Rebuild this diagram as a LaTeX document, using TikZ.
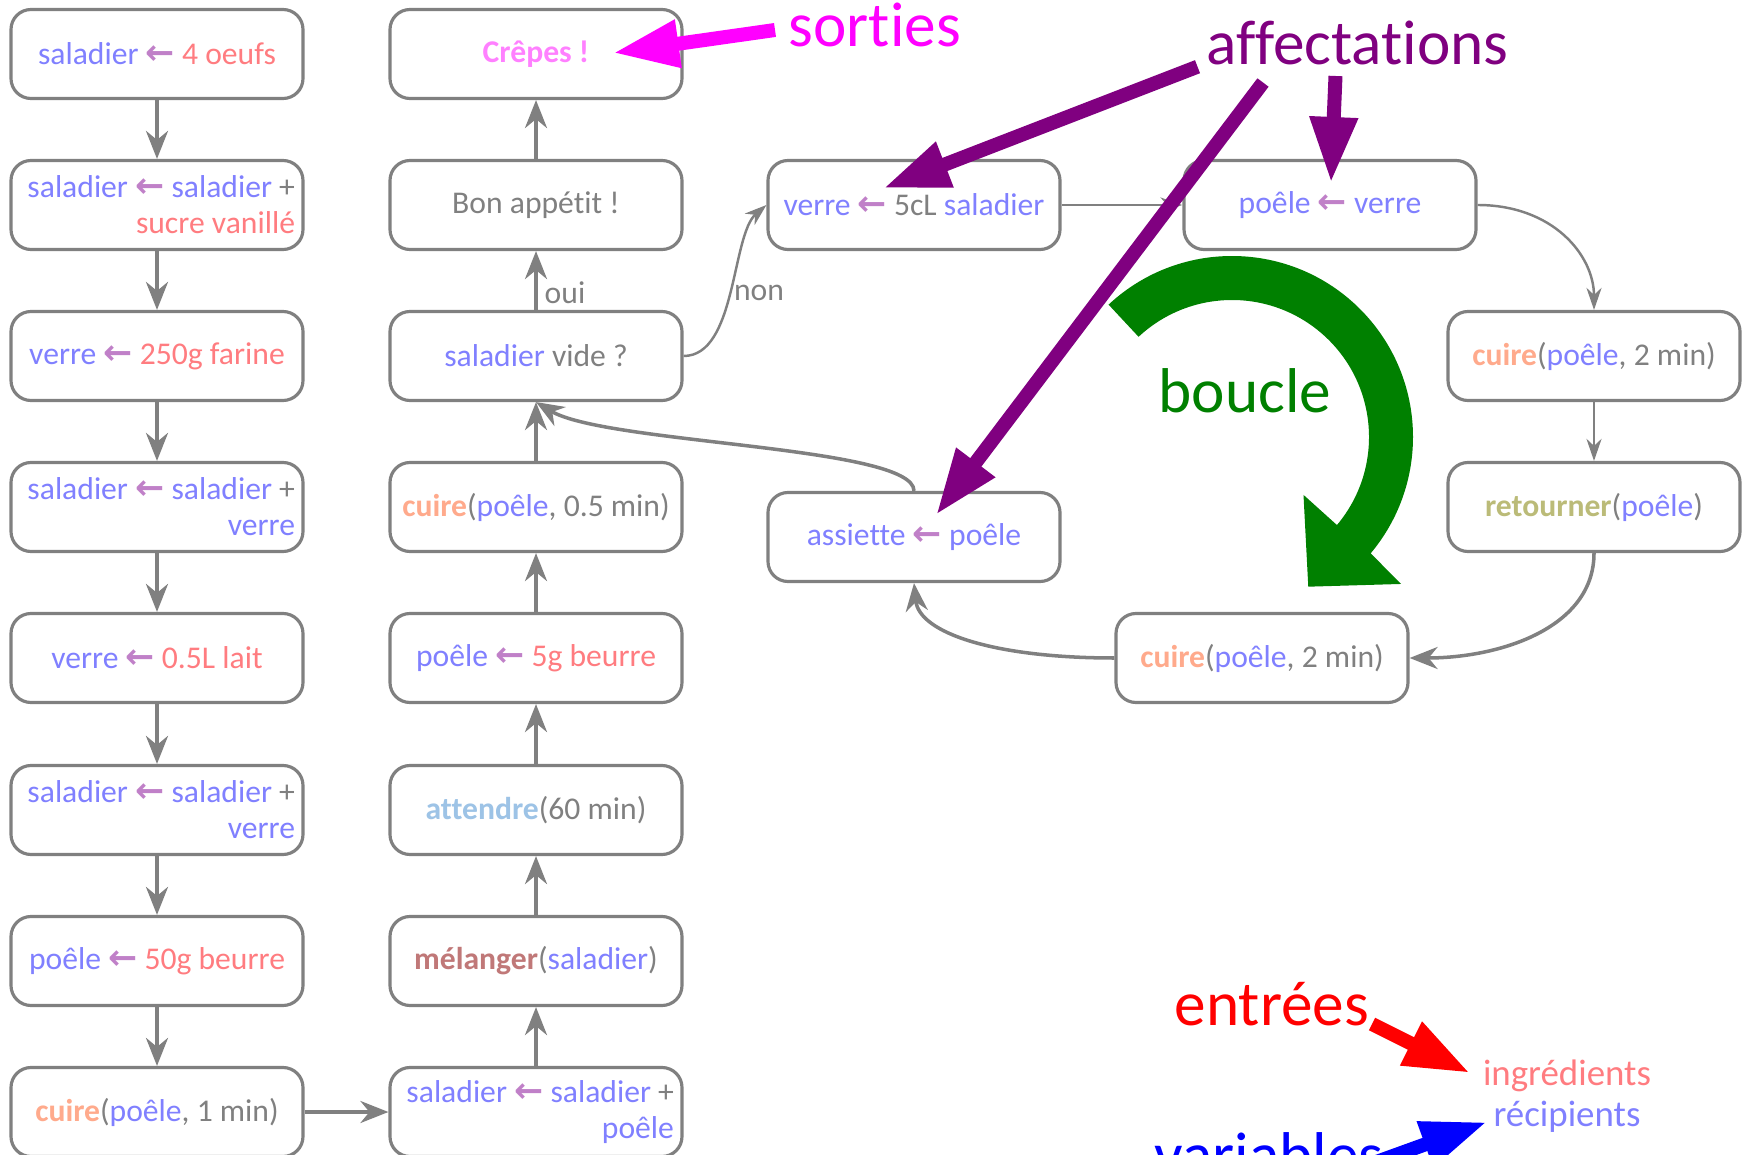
\documentclass[tikz,border=0pt]{standalone}
\usepackage{fontspec}
\setmainfont{Carlito}[Ligatures=NoCommon]
\newfontfamily\flechefont{DejaVu Sans}[Scale=1.1]
\usepackage{xcolor}
\usetikzlibrary{arrows.meta}

\definecolor{gristrait}{RGB}{128,128,128}
\definecolor{recipcol}{RGB}{128,128,255}
\definecolor{ingrcol}{RGB}{255,124,128}
\definecolor{flechecol}{RGB}{192,128,200}
\definecolor{cuirecol}{RGB}{255,170,140}
\definecolor{attendcol}{RGB}{157,195,230}
\definecolor{melcol}{RGB}{192,120,120}
\definecolor{retourcol}{RGB}{187,187,120}
\definecolor{crepecol}{RGB}{255,128,255}
\definecolor{sortiecol}{RGB}{255,0,255}
\definecolor{affcol}{RGB}{128,0,128}
\definecolor{bouclecol}{RGB}{0,128,0}
\definecolor{entreecol}{RGB}{255,0,0}
\definecolor{varcol}{RGB}{0,0,255}

\newcommand{\recip}[1]{\textcolor{recipcol}{#1}}
\newcommand{\ingr}[1]{\textcolor{ingrcol}{#1}}
\newcommand{\prend}{\textcolor{flechecol}{{\flechefont\bfseries ←}}}
\newcommand{\fonc}[2]{\textcolor{#1}{\textbf{#2}}}

\begin{document}
\begin{tikzpicture}[
    etape/.style={draw=gristrait, line width=0.9pt, rounded corners=2mm, fill=white,
        minimum width=2.92cm, minimum height=0.89cm, inner sep=1mm,
        text=gristrait, font=\fontsize{9}{10.2}\selectfont},
    etape2/.style={etape, text width=2.76cm, inner xsep=0.8mm, align=flush right},
    etiq/.style={text=gristrait, font=\fontsize{9}{10.2}\selectfont},
    lien/.style={draw=gristrait, line width=1pt, -{Stealth[length=2.8mm,width=2.2mm,inset=0.9mm]}},
    lienfin/.style={draw=gristrait, line width=0.7pt, -{Stealth[length=2.2mm,width=1.5mm,inset=0.7mm]}},
    grosse/.style={line width=1.4mm, -{Triangle[length=6.6mm,width=4.5mm]}},
    titre/.style={inner sep=0, anchor=base west, font=\fontsize{18}{21.6}\selectfont}
]
        \path[use as bounding box, fill=white] (0,0) rectangle (17.49,-11.55) ;

        % preparation de la pate
        \node[etape] (A1) at (1.57,-0.54) {\recip{saladier} \prend{} \ingr{4 oeufs}} ;
        \node[etape2] (A2) at (1.57,-2.05) {\recip{saladier} \prend{} \recip{saladier} +\\ \ingr{sucre vanillé}} ;
        \node[etape] (A3) at (1.57,-3.56) {\recip{verre} \prend{} \ingr{250g farine}} ;
        \node[etape2] (A4) at (1.57,-5.07) {\recip{saladier} \prend{} \recip{saladier} +\\ \recip{verre}} ;
        \node[etape] (A5) at (1.57,-6.58) {\recip{verre} \prend{} \ingr{0.5L lait}} ;
        \node[etape2] (A6) at (1.57,-8.10) {\recip{saladier} \prend{} \recip{saladier} +\\ \recip{verre}} ;
        \node[etape] (A7) at (1.57,-9.61) {\recip{poêle} \prend{} \ingr{50g beurre}} ;
        \node[etape] (A8) at (1.57,-11.12) {\fonc{cuirecol}{cuire}(\recip{poêle}, 1 min)} ;

        \node[etape] (B1) at (5.36,-0.54) {\fonc{crepecol}{Crêpes !}} ;
        \node[etape] (B2) at (5.36,-2.05) {Bon appétit !} ;
        \node[etape] (B3) at (5.36,-3.56) {\recip{saladier} vide ?} ;
        \node[etape] (B4) at (5.36,-5.07) {\fonc{cuirecol}{cuire}(\recip{poêle}, 0.5 min)} ;
        \node[etape] (B5) at (5.36,-6.58) {\recip{poêle} \prend{} \ingr{5g beurre}} ;
        \node[etape] (B6) at (5.36,-8.10) {\fonc{attendcol}{attendre}(60 min)} ;
        \node[etape] (B7) at (5.36,-9.61) {\fonc{melcol}{mélanger}(\recip{saladier})} ;
        \node[etape2] (B8) at (5.36,-11.12) {\recip{saladier} \prend{} \recip{saladier} +\\ \recip{poêle}} ;

        % une crepe
        \node[etape] (C1) at (9.14,-2.05) {\recip{verre} \prend{} 5cL \recip{saladier}} ;
        \node[etape] (C2) at (13.30,-2.05) {\recip{poêle} \prend{} \recip{verre}} ;
        \node[etape] (C3) at (15.94,-3.56) {\fonc{cuirecol}{cuire}(\recip{poêle}, 2 min)} ;
        \node[etape] (C4) at (15.94,-5.07) {\fonc{retourcol}{retourner}(\recip{poêle})} ;
        \node[etape] (C5) at (12.62,-6.58) {\fonc{cuirecol}{cuire}(\recip{poêle}, 2 min)} ;
        \node[etape] (C6) at (9.14,-5.37) {\recip{assiette} \prend{} \recip{poêle}} ;

        \node[etiq] (oui) at (5.65,-2.93) {oui} ;
        \node[etiq] (non) at (7.59,-2.93) {non} ;

        \draw[lien] (A1) -- (A2) ;
        \draw[lien] (A2) -- (A3) ;
        \draw[lien] (A3) -- (A4) ;
        \draw[lien] (A4) -- (A5) ;
        \draw[lien] (A5) -- (A6) ;
        \draw[lien] (A6) -- (A7) ;
        \draw[lien] (A7) -- (A8) ;
        \draw[lien] (A8) -- (B8) ;
        \draw[lien] (B8) -- (B7) ;
        \draw[lien] (B7) -- (B6) ;
        \draw[lien] (B6) -- (B5) ;
        \draw[lien] (B5) -- (B4) ;
        \draw[lien] (B4) -- (B3) ;
        \draw[lien] (B3) -- (B2) ;
        \draw[lien] (B2) -- (B1) ;

        \draw[lienfin] (B3.east) .. controls +(0.53,0) and +(-0.35,-0.3) .. (C1.west) ;
        \draw[lienfin] (C1) -- (C2) ;
        \draw[lienfin] (C2.east) .. controls +(0.75,0) and +(0,0.55) .. (C3.north) ;
        \draw[lienfin] (C3) -- (C4) ;
        \draw[lien] (C4.south) .. controls +(0,-0.75) and +(0.9,0) .. (C5.east) ;
        \draw[lien] (C5.west) .. controls +(-1.2,0) and +(0.05,-0.5) .. (C6.south) ;
        \draw[lien] (C6.north) .. controls +(0,0.45) and +(0.7,-0.42) .. (B3.south) ;

        % boucle
        \begin{scope}[shift={(12.32,-4.37)}]
            \fill[bouclecol] (133:1.81) arc[start angle=133, end angle=-40, radius=1.81]
                -- (-41:2.24) -- (-63:1.68) -- (-39:0.92) -- (-40:1.37)
                arc[start angle=-40, end angle=133, radius=1.37] -- cycle ;
        \end{scope}
        \node[titre, text=bouclecol] (boucle) at (11.58,-4.127) {boucle} ;

        % legendes
        \node[titre, text=sortiecol] (sorties) at (7.88,-0.467) {sorties} ;
        \node[titre, text=affcol] (affect) at (12.06,-0.643) {affectations} ;
        \node[titre, text=entreecol] (entrees) at (11.74,-10.25) {entrées} ;
        \node[titre, text=varcol] (variables) at (11.54,-11.76) {variables} ;
        \node[inner sep=0, anchor=base, text=ingrcol, font=\fontsize{10.5}{12.6}\selectfont] (ingr) at (15.67,-10.85) {ingrédients} ;
        \node[inner sep=0, anchor=base, text=recipcol, font=\fontsize{10.5}{12.6}\selectfont] (recip) at (15.67,-11.26) {récipients} ;

        \coordinate (s0) at (7.75,-0.30) ;
        \coordinate (s1) at (6.13,-0.53) ;
        \coordinate (f0) at (11.975,-0.667) ;
        \coordinate (f1) at (8.833,-1.883) ;
        \coordinate (g0) at (12.63,-0.825) ;
        \coordinate (g1) at (9.36,-5.15) ;
        \coordinate (h0) at (13.355,-0.76) ;
        \coordinate (h1) at (13.31,-1.83) ;
        \coordinate (e0) at (13.72,-10.24) ;
        \coordinate (e1) at (14.70,-10.73) ;
        \coordinate (v0) at (12.99,-11.90) ;
        \coordinate (v1) at (14.87,-11.22) ;

        \draw[grosse, sortiecol] (s0) -- (s1) ;
        \draw[grosse, affcol] (f0) -- (f1) ;
        \draw[grosse, affcol] (g0) -- (g1) ;
        \draw[grosse, affcol] (h0) -- (h1) ;
        \draw[grosse, entreecol] (e0) -- (e1) ;
        \draw[grosse, varcol] (v0) -- (v1) ;
    \end{tikzpicture}
\end{document}
